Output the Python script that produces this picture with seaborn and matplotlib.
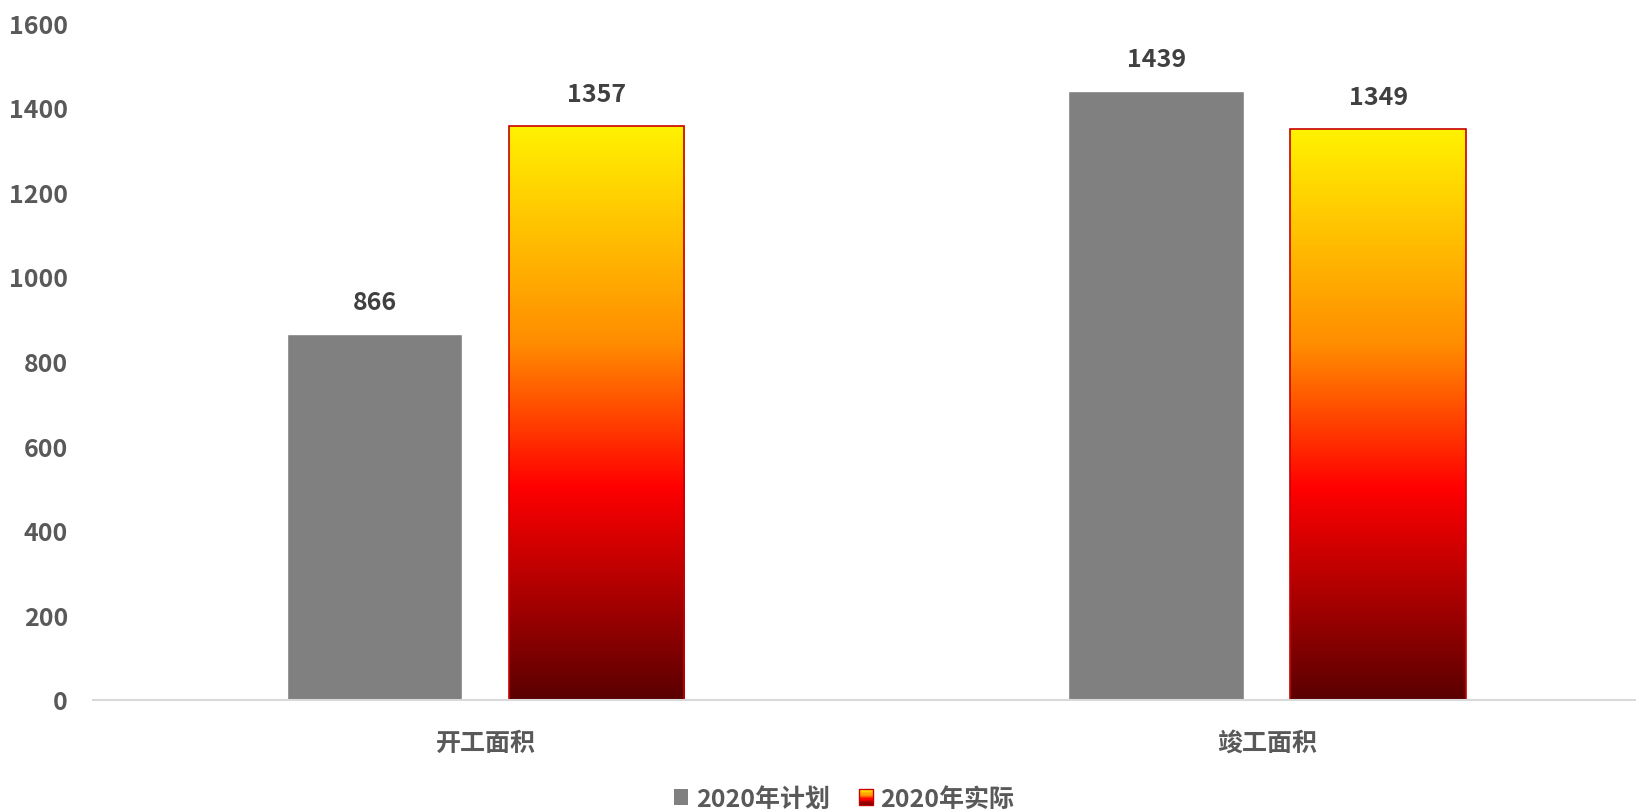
import numpy as np
import pandas as pd
import matplotlib
matplotlib.use('Agg')
import matplotlib.pyplot as plt
import seaborn as sns
from matplotlib.colors import LinearSegmentedColormap
from matplotlib.patches import Rectangle
from matplotlib.legend_handler import HandlerBase

# data
categories = ['开工面积', '竣工面积']
series = ['2020年计划', '2020年实际']
plan_values = [866, 1439]
actual_values = [1357, 1349]
y_ticks = [0, 200, 400, 600, 800, 1000, 1200, 1400, 1600]

df = pd.DataFrame({
    'category': categories * 2,
    'series': [series[0]] * 2 + [series[1]] * 2,
    'value': plan_values + actual_values,
})

sns.set_theme(style='white')
plt.rcParams['font.family'] = ['Noto Sans CJK SC', 'DejaVu Sans']

# gradient fill for the "actual" bars: dark red -> red -> orange -> yellow
grad = LinearSegmentedColormap.from_list('heat', [
    (0.0, '#5a0000'), (0.37, '#ff0000'), (0.62, '#ff8c00'), (1.0, '#fff200')])
edge_red = '#c80000'

fig = plt.figure(figsize=(16.36, 8.12), dpi=100)
ax = fig.add_axes([93 / 1636, 111 / 812, 1543 / 1636, 677 / 812])

sns.barplot(data=df, x='category', y='value', hue='series',
            palette=['#808080', '#ff0000'], width=0.568, gap=0.21,
            saturation=1, legend=False, ax=ax)

# replace the flat red with a vertical gradient
gradient = np.linspace(0, 1, 256).reshape(-1, 1)
for bar in ax.containers[1]:
    x, w, h = bar.get_x(), bar.get_width(), bar.get_height()
    bar.set_facecolor('none')
    bar.set_edgecolor(edge_red)
    bar.set_linewidth(1.2)
    bar.set_zorder(3)
    im = ax.imshow(gradient, cmap=grad, origin='lower', aspect='auto',
                   extent=[x, x + w, 0, h], zorder=2.5)
    im.set_clip_path(bar)

# value labels
for cont in ax.containers:
    for bar in cont:
        h = bar.get_height()
        ax.annotate(f'{h:.0f}', (bar.get_x() + bar.get_width() / 2, h),
                    xytext=(0, 23), textcoords='offset points',
                    ha='center', va='center', fontsize=18,
                    fontweight='bold', color='#404040')

ax.set_xlim(-0.5022, 1.472)
ax.set_ylim(0, 1600)
ax.set_yticks(y_ticks)
ax.set_xlabel('')
ax.set_ylabel('')
ax.tick_params(axis='both', length=0, labelsize=18, labelcolor='#595959')
ax.tick_params(axis='y', pad=18)
ax.tick_params(axis='x', pad=22)
for lab in ax.get_xticklabels() + ax.get_yticklabels():
    lab.set_fontweight('bold')

for side in ['top', 'right', 'left']:
    ax.spines[side].set_visible(False)
ax.spines['bottom'].set_color('#d9d9d9')
ax.spines['bottom'].set_linewidth(1.5)
ax.spines['bottom'].set_zorder(4)
ax.set_facecolor('white')


class GradientHandler(HandlerBase):
    def create_artists(self, legend, orig_handle, xdescent, ydescent,
                       width, height, fontsize, trans):
        arts = []
        n = 12
        for i in range(n):
            r = Rectangle((-xdescent, -ydescent + height * i / n), width, height / n + 0.3,
                          facecolor=grad((i + 0.5) / n), edgecolor='none', transform=trans)
            arts.append(r)
        arts.append(Rectangle((-xdescent, -ydescent), width, height, facecolor='none',
                              edgecolor=edge_red, linewidth=1.0, transform=trans))
        return arts


h_plan = Rectangle((0, 0), 1, 1, facecolor='#808080', edgecolor='none')
h_act = Rectangle((0, 0), 1, 1)
leg = fig.legend([h_plan, h_act], series, loc='center', bbox_to_anchor=(0.516, 0.0148),
                 ncol=2, frameon=False, handlelength=0.58, handleheight=0.58,
                 handletextpad=0.3, columnspacing=1.15,
                 handler_map={h_act: GradientHandler()},
                 prop={'size': 18, 'weight': 'bold'})
for t in leg.get_texts():
    t.set_color('#595959')

fig.savefig('out.png', dpi=100, facecolor='white')
